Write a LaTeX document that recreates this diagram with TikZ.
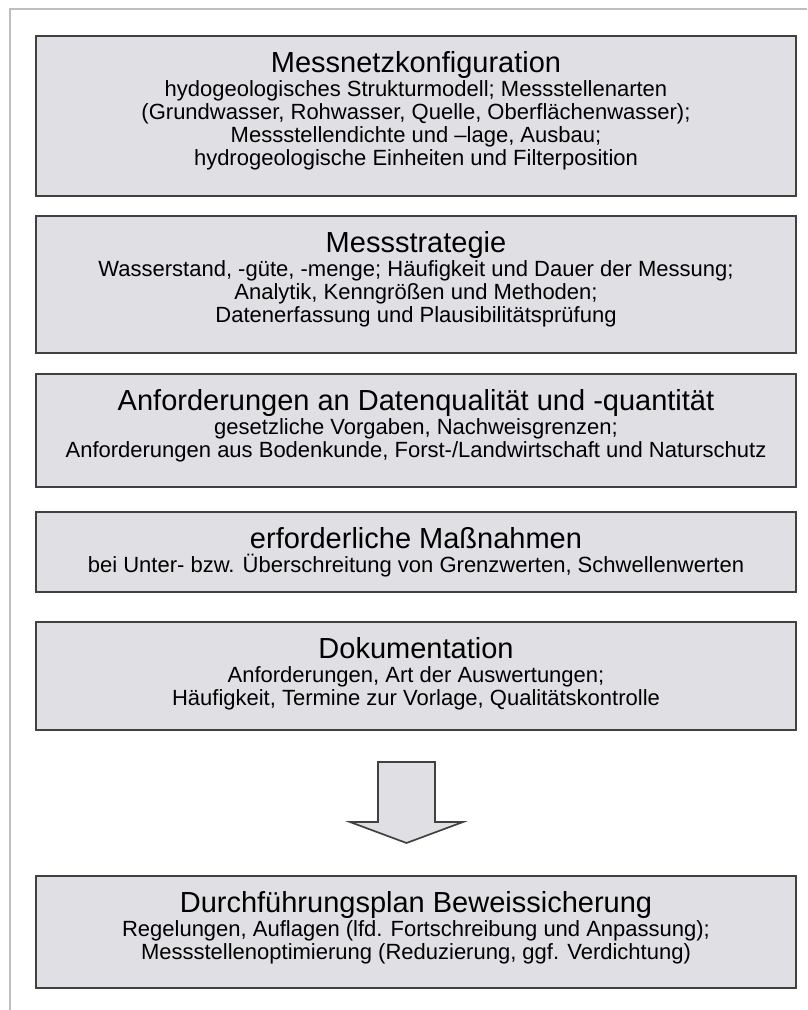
\documentclass[tikz,border=0pt]{standalone}
\usepackage{fontspec}
\setmainfont{Liberation Sans}
\definecolor{boxfill}{RGB}{224,224,228}
\definecolor{boxline}{RGB}{65,65,65}
\definecolor{framegray}{RGB}{190,190,190}
\newcommand{\ttl}{\fontsize{29}{33}\selectfont}
\tikzset{
  stagebox/.style={draw=boxline, fill=boxfill, line width=1.7pt, minimum width=760pt, inner sep=0pt},
  stagetext/.style={align=center, font=\fontsize{22}{23}\selectfont, inner sep=0pt, anchor=north},
  bigarrow/.style={draw=boxline, fill=boxfill, line width=1.7pt, line join=miter}
}
\begin{document}
\begin{tikzpicture}[x=1pt,y=-1pt]
\useasboundingbox (0,0) rectangle (807,1010);
\fill[white] (0,0) rectangle (807,1010);
% frame lines
\coordinate (fc) at (10,9);
\coordinate (fr) at (807,9);
\coordinate (fb) at (10,1010);
\draw[framegray, line width=2.2pt] (fb) -- (fc) -- (fr);
% boxes
\node[stagebox, minimum height=160pt] (b1) at (416,116) {};
\node[stagebox, minimum height=137pt] (b2) at (416,284.5) {};
\node[stagebox, minimum height=113pt] (b3) at (416,430.5) {};
\node[stagebox, minimum height=80pt] (b4) at (416,552) {};
\node[stagebox, minimum height=108pt] (b5) at (416,676) {};
\node[stagebox, minimum height=112pt] (b6) at (416,932) {};
% texts
\node[stagetext] (t1) at (416,51) {{\ttl Messnetzkonfiguration}\\[1pt]
hydogeologisches Strukturmodell; Messstellenarten\\
(Grundwasser, Rohwasser, Quelle, Oberflächenwasser);\\
Messstellendichte und –lage, Ausbau;\\
hydrogeologische Einheiten und Filterposition};
\node[stagetext] (t2) at (416,231) {{\ttl Messstrategie}\\[1pt]
Wasserstand, -güte, -menge; Häufigkeit und Dauer der Messung;\\
Analytik, Kenngrößen und Methoden;\\
Datenerfassung und Plausibilitätsprüfung};
\node[stagetext] (t3) at (416,389) {{\ttl Anforderungen an Datenqualität und -quantität}\\[1pt]
gesetzliche Vorgaben, Nachweisgrenzen;\\
Anforderungen aus Bodenkunde, Forst-/Landwirtschaft und Naturschutz};
\node[stagetext] (t4) at (416,527) {{\ttl erforderliche Maßnahmen}\\[1pt]
bei Unter- bzw. Überschreitung von Grenzwerten, Schwellenwerten};
\node[stagetext] (t5) at (416,637) {{\ttl Dokumentation}\\[1pt]
Anforderungen, Art der Auswertungen;\\
Häufigkeit, Termine zur Vorlage, Qualitätskontrolle};
\node[stagetext] (t6) at (416,891) {{\ttl Durchführungsplan Beweissicherung}\\[1pt]
Regelungen, Auflagen (lfd. Fortschreibung und Anpassung);\\
Messstellenoptimierung (Reduzierung, ggf. Verdichtung)};
% block arrow between Dokumentation and Durchfuehrungsplan
\draw[bigarrow] (378,762) -- (435,762) -- (435,822) -- (463,822) -- (406.5,843) -- (350,822) -- (378,822) -- cycle;
\end{tikzpicture}
\end{document}
